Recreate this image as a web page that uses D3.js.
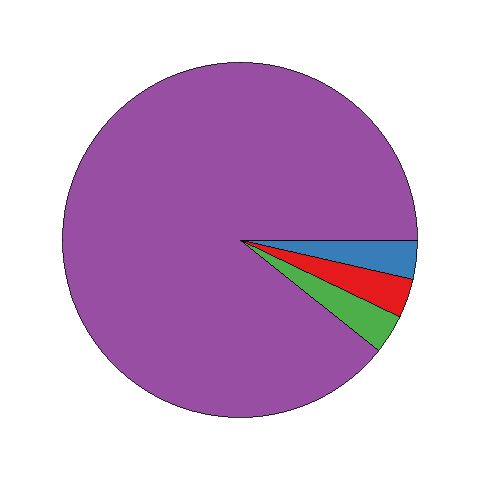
<!DOCTYPE html>
<html>
<head>
<meta charset="utf-8">
<script src="https://cdn.jsdelivr.net/npm/d3@7"></script>
<style>
  html, body { margin: 0; padding: 0; background: #ffffff; }
  svg { display: block; }
</style>
</head>
<body>
<svg id="chart" width="480" height="480"></svg>
<script>
const categories = ["A", "B", "C", "D"];
const values = [1, 1, 1, 25];
const colors = ["#377eb8", "#e41a1c", "#4daf4a", "#984ea3"];

const width = 480, height = 480;
const cx = 240, cy = 240, radius = 177.5;

const svg = d3.select("#chart");
const data = categories.map((c, i) => ({ category: c, value: values[i] }));

const color = d3.scaleOrdinal().domain(categories).range(colors);

const pie = d3.pie()
  .value(d => d.value)
  .sort(null)
  .startAngle(Math.PI / 2)
  .endAngle(Math.PI / 2 + 2 * Math.PI);

const arc = d3.arc().innerRadius(0).outerRadius(radius);

svg.append("g")
  .attr("transform", `translate(${cx},${cy})`)
  .selectAll("path")
  .data(pie(data))
  .join("path")
  .attr("d", arc)
  .attr("fill", d => color(d.data.category))
  .attr("stroke", "#000000")
  .attr("stroke-width", 0.8)
  .attr("shape-rendering", "crispEdges");
</script>
</body>
</html>
